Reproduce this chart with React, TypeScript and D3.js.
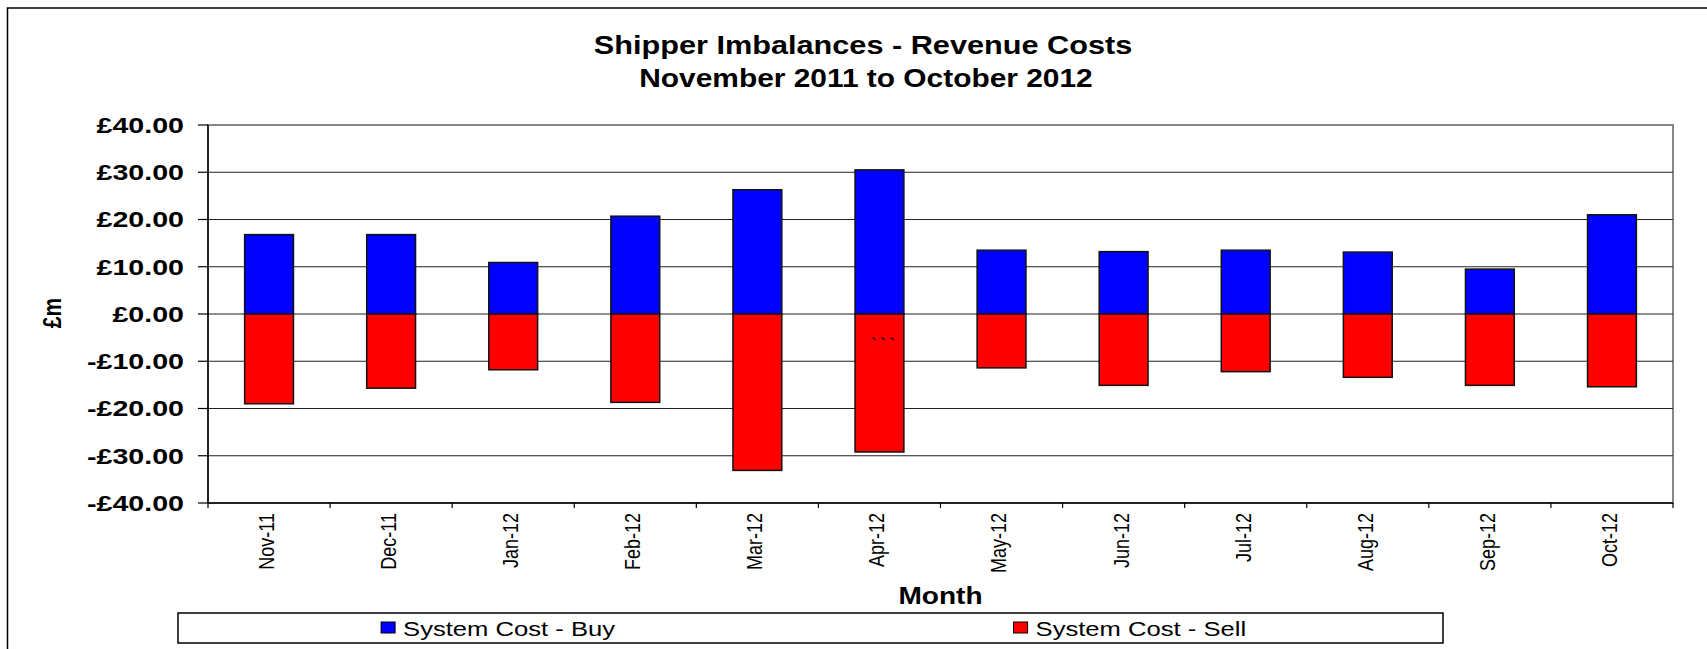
import React from 'react';
import * as d3 from 'd3';

const months = ['Nov-11', 'Dec-11', 'Jan-12', 'Feb-12', 'Mar-12', 'Apr-12', 'May-12', 'Jun-12', 'Jul-12', 'Aug-12', 'Sep-12', 'Oct-12'];
const buyValues = [16.8, 16.8, 10.9, 20.7, 26.3, 30.5, 13.5, 13.2, 13.5, 13.1, 9.5, 21.0];
const sellValues = [-19.0, -15.7, -11.8, -18.7, -33.1, -29.2, -11.4, -15.1, -12.2, -13.4, -15.1, -15.4];
const yTicks = [40, 30, 20, 10, 0, -10, -20, -30, -40];
const seriesNames = ['System Cost - Buy', 'System Cost - Sell'];
const seriesColors = ['#0000FF', '#FF0000'];

const FONT = '"Liberation Sans", Arial, sans-serif';
const SX = 1.22; // the original picture is stretched sideways

const width = 1707;
const height = 649;
const plot = { left: 208, right: 1673, top: 125, bottom: 503 };

const fmt = (v: number) => (v < 0 ? '-' : '') + '£' + Math.abs(v).toFixed(2);

const App: React.FC = () => {
  const x = d3.scaleBand().domain(months).range([plot.left, plot.right]).paddingInner(0.6).paddingOuter(0.3);
  const xCat = d3.scaleBand().domain(months).range([plot.left, plot.right]);
  const y = d3.scaleLinear().domain([-40, 40]).range([plot.bottom, plot.top]);

  const legendLeft = 178;
  const legendRight = 1443;
  const legendHalf = (legendRight - legendLeft) / 2;

  return (
    <svg width={width} height={height} style={{ position: 'absolute', left: 0, top: 0, background: '#fff' }}>
      {/* outer chart border, cut off at right and bottom */}
      <rect x={7.5} y={8} width={1760} height={700} fill="white" stroke="black" strokeWidth={1.5} />

      <text transform={`translate(863,54) scale(1.18,1)`} textAnchor="middle" fontFamily={FONT} fontWeight="bold" fontSize={26}>
        Shipper Imbalances - Revenue Costs
      </text>
      <text transform={`translate(866,87) scale(1.15,1)`} textAnchor="middle" fontFamily={FONT} fontWeight="bold" fontSize={26}>
        November 2011 to October 2012
      </text>

      {/* plot frame */}
      <rect x={plot.left} y={plot.top} width={plot.right - plot.left} height={plot.bottom - plot.top} fill="white" stroke="#888" strokeWidth={2} />

      {/* gridlines */}
      {yTicks.filter((t) => t !== 40 && t !== -40).map((t) => (
        <line key={t} x1={plot.left} x2={plot.right} y1={y(t)} y2={y(t)} stroke="#222" strokeWidth={1.2} />
      ))}

      {/* bars */}
      {months.map((m, i) => (
        <g key={m}>
          <rect x={x(m)} y={y(buyValues[i])} width={x.bandwidth()} height={y(0) - y(buyValues[i])} fill={seriesColors[0]} stroke="#111" strokeWidth={1.5} />
          <rect x={x(m)} y={y(0)} width={x.bandwidth()} height={y(sellValues[i]) - y(0)} fill={seriesColors[1]} stroke="#111" strokeWidth={1.5} />
        </g>
      ))}
      <text x={(x('Apr-12') || 0) + x.bandwidth() * 0.57} y={y(-7.5)} textAnchor="middle" fontFamily={FONT} fontWeight="bold" fontSize={15}>
        ` ` `
      </text>

      {/* y axis */}
      <line x1={plot.left} x2={plot.left} y1={plot.top} y2={plot.bottom} stroke="black" strokeWidth={1.5} />
      {yTicks.map((t) => (
        <g key={t}>
          <line x1={plot.left - 10} x2={plot.left} y1={y(t)} y2={y(t)} stroke="black" strokeWidth={1.2} />
          <text transform={`translate(184,${y(t)}) scale(1.3,1)`} dy="0.36em" textAnchor="end" fontFamily={FONT} fontWeight="bold" fontSize={22}>
            {fmt(t)}
          </text>
        </g>
      ))}
      <text transform={`translate(52,313) scale(${SX},1) rotate(-90)`} dy="0.36em" textAnchor="middle" fontFamily={FONT} fontWeight="bold" fontSize={21}>
        £m
      </text>

      {/* x axis */}
      <line x1={plot.left} x2={plot.right} y1={plot.bottom} y2={plot.bottom} stroke="black" strokeWidth={1.5} />
      {months.concat(['end']).map((m, i) => {
        const tx = plot.left + i * xCat.step();
        return <line key={m} x1={tx} x2={tx} y1={plot.bottom} y2={plot.bottom + 5} stroke="black" strokeWidth={1.2} />;
      })}
      {months.map((m) => (
        <text key={m} transform={`translate(${(xCat(m) || 0) + xCat.bandwidth() / 2 - 3},513) scale(${SX},1) rotate(-90)`} dy="0.36em" textAnchor="end" fontFamily={FONT} fontSize={18}>
          {m}
        </text>
      ))}
      <text transform={`translate(${(plot.left + plot.right) / 2},604) scale(${SX},1)`} textAnchor="middle" fontFamily={FONT} fontWeight="bold" fontSize={23}>
        Month
      </text>

      {/* legend */}
      <rect x={legendLeft} y={613} width={legendRight - legendLeft} height={30} fill="white" stroke="black" strokeWidth={1.5} />
      {seriesNames.map((name, i) => {
        const cx = legendLeft + legendHalf * (i + 0.5) + 8;
        const textW = 8.6 * 21 * SX;
        const startX = cx - (textW + 22) / 2;
        return (
          <g key={name}>
            <rect x={startX} y={622} width={14} height={11} fill={seriesColors[i]} stroke="black" strokeWidth={1} />
            <text transform={`translate(${startX + 22},628) scale(${SX},1)`} dy="0.36em" fontFamily={FONT} fontSize={21}>
              {name}
            </text>
          </g>
        );
      })}
    </svg>
  );
};

export default App;
